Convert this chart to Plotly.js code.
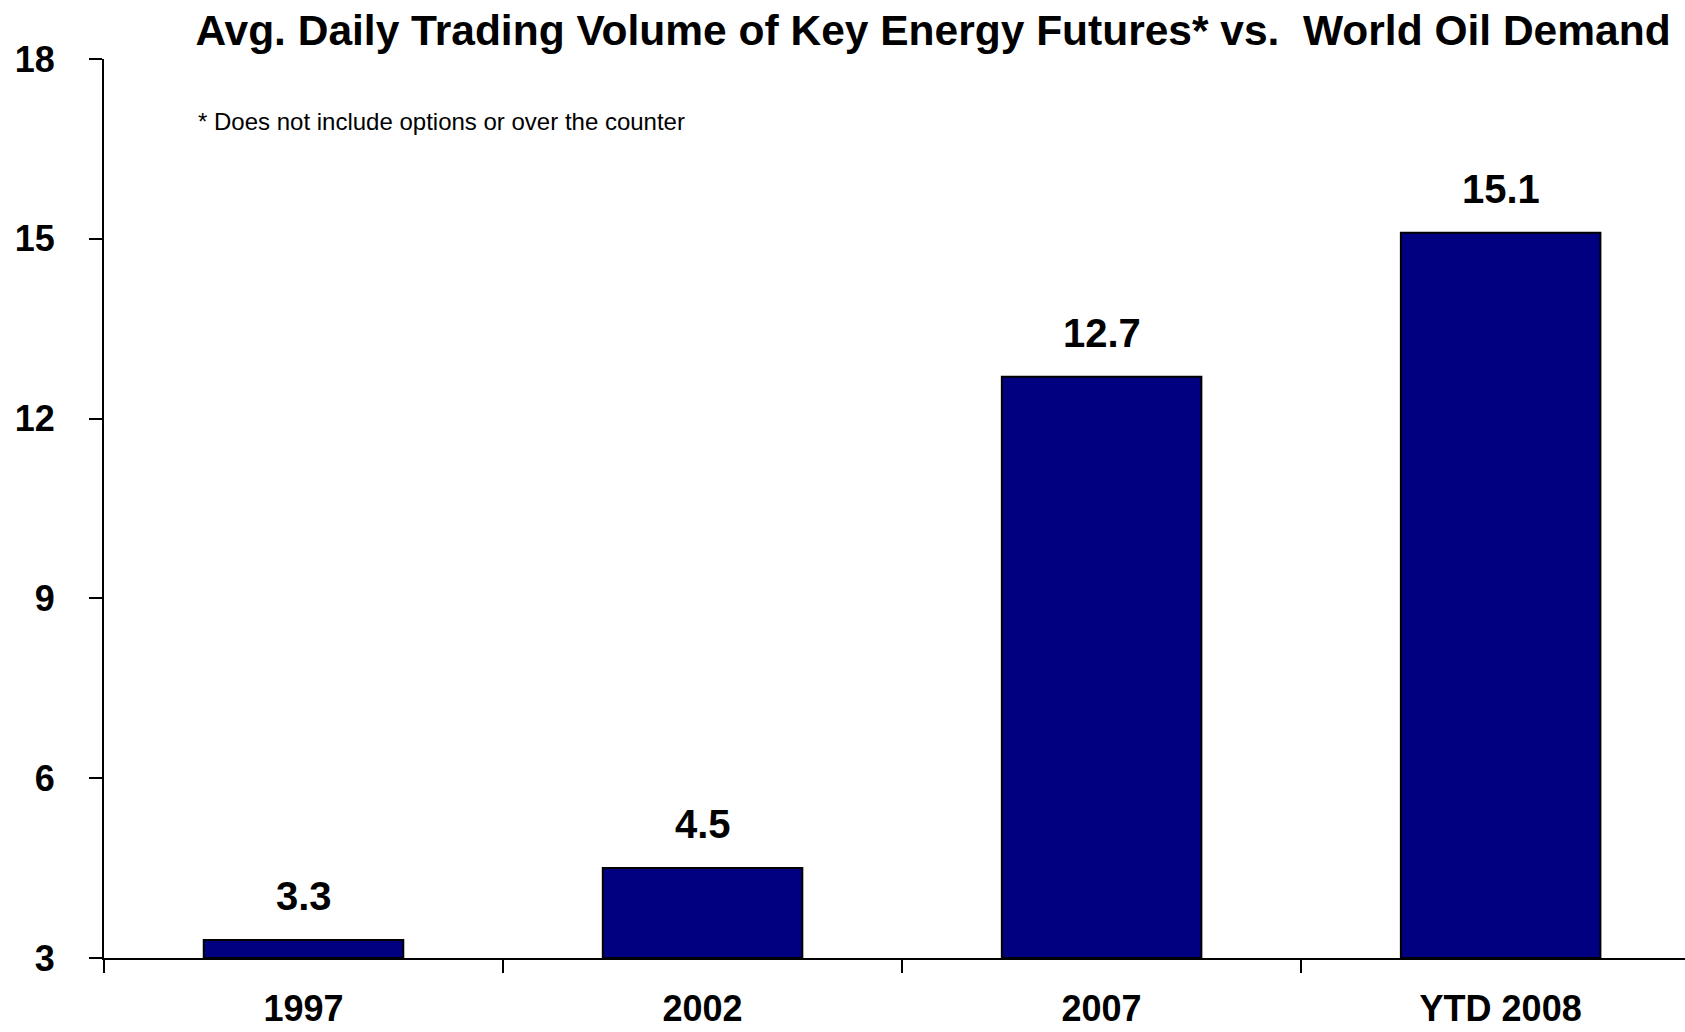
<!DOCTYPE html>
<html>
<head>
<meta charset="utf-8">
<script src="https://cdn.plot.ly/plotly-3.0.1.min.js"></script>
<style>html,body{margin:0;padding:0;background:#fff;}#chart{width:1685px;height:1032px;}</style>
</head>
<body>
<div id="chart"></div>
<script>
const categories = ["1997", "2002", "2007", "YTD 2008"];
const volumes = [3.3, 4.5, 12.7, 15.1];
const yTicks = [3, 6, 9, 12, 15, 18];
const titleText = "Avg. Daily Trading Volume of Key Energy Futures* vs.  World Oil Demand";
const footnoteText = "* Does not include options or over the counter";

const FONT = "Liberation Sans, Arial, Helvetica, sans-serif";
const AXIS_FLOOR = 3;

const trace = {
  type: "bar",
  x: categories,
  y: volumes.map(v => v - AXIS_FLOOR),
  base: AXIS_FLOOR,
  width: 0.5,
  marker: {color: "#000080", line: {color: "#000000", width: 2}},
  hoverinfo: "skip"
};

const labelAnns = categories.map((c, i) => ({
  x: i, y: volumes[i], xref: "x", yref: "y",
  text: "<b>" + volumes[i].toFixed(1) + "</b>",
  showarrow: false, yanchor: "middle", xanchor: "center",
  yshift: 44,
  font: {family: FONT, size: 40, color: "#000"}
}));

const layout = {
  width: 1685, height: 1032,
  paper_bgcolor: "#fff", plot_bgcolor: "#fff",
  margin: {l: 104, r: 0, t: 59, b: 74, pad: 0},
  showlegend: false,
  title: {
    text: "<b>" + titleText + "</b>",
    x: 933 / 1685, xanchor: "center", xref: "container",
    y: 1 - 30 / 1032, yanchor: "middle", yref: "container",
    font: {family: FONT, size: 42.5, color: "#000"}
  },
  xaxis: {
    type: "category",
    range: [-0.5, 3.462],
    tickson: "boundaries",
    ticks: "outside", ticklen: 13, tickwidth: 2, tickcolor: "#000",
    showline: true, linecolor: "#000", linewidth: 2,
    showgrid: false, zeroline: false,
    tickfont: {family: FONT, size: 36, color: "#000", weight: "bold"},
    ticklabelstandoff: 18,
    automargin: false, fixedrange: true
  },
  yaxis: {
    range: [3, 18],
    tickvals: yTicks,
    ticktext: yTicks.map(String),
    ticks: "outside", ticklen: 13, tickwidth: 2, tickcolor: "#000",
    showline: true, linecolor: "#000", linewidth: 2,
    showgrid: false, zeroline: false,
    tickfont: {family: FONT, size: 36, color: "#000", weight: "bold"},
    ticklabelstandoff: 27,
    automargin: false, fixedrange: true
  },
  annotations: labelAnns.concat([{
    xref: "paper", yref: "paper",
    x: (196 - 104) / 1581, y: (958 - 122) / 899,
    xanchor: "left", yanchor: "middle",
    text: footnoteText, showarrow: false,
    font: {family: FONT, size: 24, color: "#000"}
  }])
};

Plotly.newPlot("chart", [trace], layout, {displayModeBar: false, staticPlot: true});
</script>
</body>
</html>
